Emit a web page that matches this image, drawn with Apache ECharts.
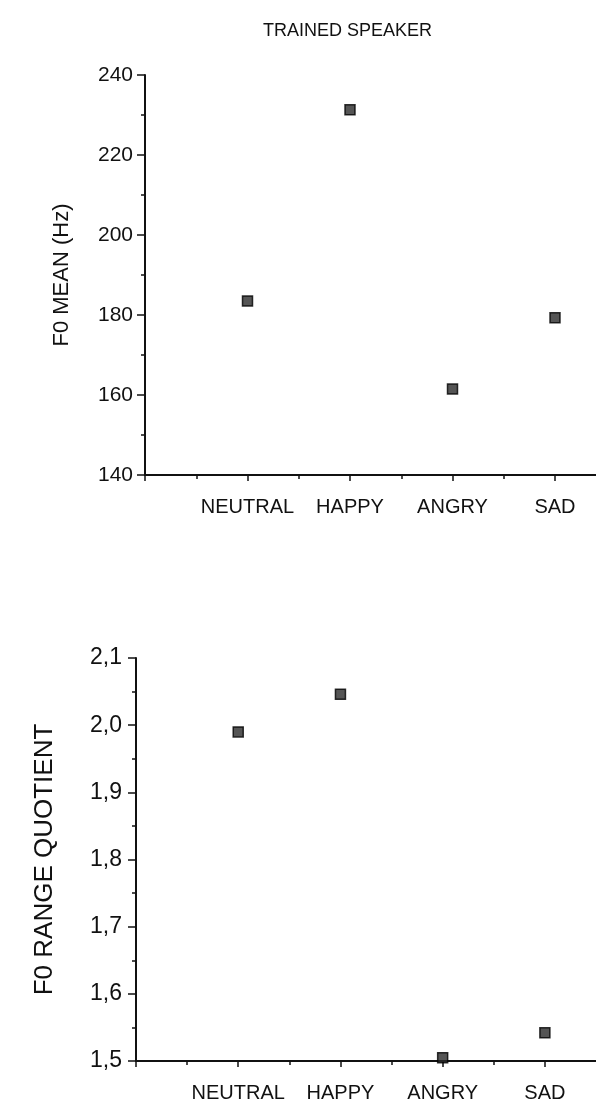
<!DOCTYPE html>
<html>
<head>
<meta charset="utf-8">
<script src="https://cdn.jsdelivr.net/npm/echarts@6/dist/echarts.min.js"></script>
<style>
  html, body { margin: 0; padding: 0; background: #fff; }
  #chart { width: 596px; height: 1105px; }
</style>
</head>
<body>
<div id="chart"></div>
<script>
// data
const emotions = ["NEUTRAL", "HAPPY", "ANGRY", "SAD"];
const f0Mean = [183.5, 231.3, 161.5, 179.3];
const f0RangeQuotient = [1.99, 2.046, 1.505, 1.542];
const meanTicks = { min: 140, max: 240, step: 20 };
const quotientTicks = { min: 1.5, max: 2.1, step: 0.1 };
const categoryTicks = [0, 1, 2, 3, 4];
const halfTicks = [0.5, 1.5, 2.5, 3.5];

const FONT = "'Liberation Sans', Arial, Helvetica, sans-serif";
const INK = "#111";

// points sit on category positions 1..4 of a value axis
const toPoints = (vals) => vals.map((v, i) => [i + 1, v]);

function xMainAxis(gridIndex, max) {
  return {
    type: "value",
    gridIndex,
    position: "bottom",
    min: 0,
    max,
    axisLine: { lineStyle: { color: INK, width: 2 } },
    axisTick: { show: true, customValues: categoryTicks, length: 6, lineStyle: { color: INK, width: 1.5 } },
    splitLine: { show: false },
    axisLabel: {
      customValues: categoryTicks.slice(1),
      margin: 22,
      color: INK,
      fontFamily: FONT,
      fontSize: 20,
      formatter: (v) => emotions[Math.round(v) - 1] || "",
    },
  };
}

// second axis on the same grid, only for the short in-between ticks
function xHalfAxis(gridIndex, max) {
  return {
    type: "value",
    gridIndex,
    position: "bottom",
    min: 0,
    max,
    axisLine: { show: false },
    axisTick: { show: true, customValues: halfTicks, length: 4, lineStyle: { color: INK, width: 1.5 } },
    axisLabel: { show: false },
    splitLine: { show: false },
  };
}

function yAxisFor(gridIndex, ticks, name, opts, fmt) {
  return {
    type: "value",
    gridIndex,
    min: ticks.min,
    max: ticks.max,
    interval: ticks.step,
    name,
    nameLocation: "middle",
    nameGap: opts.nameGap,
    nameMoveOverlap: false,
    nameTextStyle: { color: INK, fontFamily: FONT, fontSize: opts.nameSize },
    axisLine: { show: true, lineStyle: { color: INK, width: 2 } },
    axisTick: { show: true, length: 8, lineStyle: { color: INK, width: 1.5 } },
    minorTick: { show: true, splitNumber: 2, length: 4, lineStyle: { color: INK, width: 1.5 } },
    splitLine: { show: false },
    axisLabel: { margin: opts.labelMargin, color: INK, fontFamily: FONT, fontSize: opts.labelSize, formatter: fmt },
  };
}

const pointStyle = { color: "#2a2a2a", borderColor: "#000", borderWidth: 1.5 };

const chart = echarts.init(document.getElementById("chart"), null, { renderer: "canvas" });

chart.setOption({
  backgroundColor: "#fff",
  animation: false,
  title: {
    text: "TRAINED SPEAKER",
    left: 258,
    top: 17,
    textStyle: { color: INK, fontFamily: FONT, fontSize: 18, fontWeight: "normal" },
  },
  grid: [
    { left: 145, top: 75, height: 400, right: 0 },
    { left: 136, top: 658, height: 403, right: 0 },
  ],
  xAxis: [
    xMainAxis(0, 4.4),
    xHalfAxis(0, 4.4),
    xMainAxis(1, 4.5),
    xHalfAxis(1, 4.5),
  ],
  yAxis: [
    yAxisFor(0, meanTicks, "F0 MEAN (Hz)",
      { nameGap: 72, nameSize: 22, labelSize: 21, labelMargin: 12 },
      (v) => String(v)),
    yAxisFor(1, quotientTicks, "F0 RANGE QUOTIENT",
      { nameGap: 78, nameSize: 26, labelSize: 23, labelMargin: 14 },
      (v) => v.toFixed(1).replace(".", ",")),
  ],
  series: [
    {
      type: "scatter",
      xAxisIndex: 0,
      yAxisIndex: 0,
      symbol: "rect",
      symbolSize: 10,
      itemStyle: pointStyle,
      data: toPoints(f0Mean),
    },
    {
      type: "scatter",
      xAxisIndex: 2,
      yAxisIndex: 1,
      symbol: "rect",
      symbolSize: 10,
      itemStyle: pointStyle,
      data: toPoints(f0RangeQuotient),
    },
  ],
});
</script>
</body>
</html>
